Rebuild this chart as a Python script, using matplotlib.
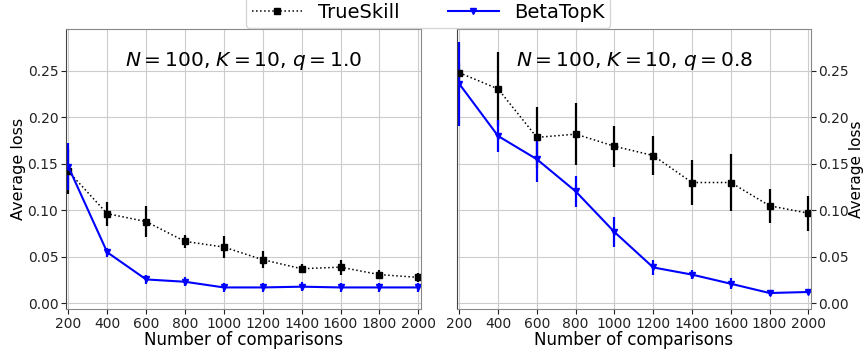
import numpy as np
import matplotlib
matplotlib.use("Agg")
import matplotlib.pyplot as plt
from matplotlib.lines import Line2D

# number of comparisons
comparisons = [200, 400, 600, 800, 1000, 1200, 1400, 1600, 1800, 2000]

# q = 1.0
ts_q10 = [0.142, 0.0965, 0.088, 0.0667, 0.0606, 0.047, 0.0373, 0.039, 0.031, 0.028]
ts_q10_err = [0.024, 0.013, 0.017, 0.007, 0.012, 0.009, 0.005, 0.008, 0.005, 0.005]
bt_q10 = [0.147, 0.055, 0.0258, 0.0233, 0.0172, 0.0172, 0.018, 0.0172, 0.0172, 0.0172]
bt_q10_err = [0.025, 0.005, 0.005, 0.005, 0.005, 0.005, 0.005, 0.005, 0.005, 0.005]

# q = 0.8
ts_q08 = [0.248, 0.2306, 0.1785, 0.182, 0.169, 0.159, 0.130, 0.130, 0.105, 0.097]
ts_q08_err = [0.01, 0.04, 0.033, 0.033, 0.022, 0.021, 0.024, 0.031, 0.018, 0.019]
bt_q08 = [0.236, 0.180, 0.155, 0.1205, 0.0768, 0.0387, 0.031, 0.0212, 0.0112, 0.0123]
bt_q08_err = [0.045, 0.017, 0.024, 0.017, 0.016, 0.008, 0.005, 0.006, 0.003, 0.002]

titles = [r"$N=100$, $K=10$, $q=1.0$", r"$N=100$, $K=10$, $q=0.8$"]

fig = plt.figure(figsize=(8.65, 3.53), dpi=100)
ax1 = fig.add_axes([0.0763, 0.1246, 0.4104, 0.7932])
ax2 = fig.add_axes([0.5283, 0.1246, 0.4093, 0.7932])

panels = [(ax1, ts_q10, ts_q10_err, bt_q10, bt_q10_err, titles[0]),
          (ax2, ts_q08, ts_q08_err, bt_q08, bt_q08_err, titles[1])]

for ax, ts, ts_err, bt, bt_err, title in panels:
    ax.errorbar(comparisons, ts, yerr=ts_err, color='black', linestyle=':',
                marker='s', markersize=5, linewidth=1.1, elinewidth=1.6)
    ax.errorbar(comparisons, bt, yerr=bt_err, color='blue', linestyle='-',
                marker='v', markersize=5, linewidth=1.5, elinewidth=1.6)
    ax.set_xlim(188, 2014)
    ax.set_ylim(-0.006, 0.295)
    ax.set_xticks(comparisons)
    ax.set_yticks([0.0, 0.05, 0.10, 0.15, 0.20, 0.25])
    ax.grid(True, color='#cccccc', linewidth=0.8)
    ax.set_axisbelow(True)
    ax.tick_params(labelsize=10, colors='#222222', pad=2)
    for sp in ax.spines.values():
        sp.set_color('#888888')
    ax.set_xlabel('Number of comparisons', fontsize=12, labelpad=0)
    ax.set_ylabel('Average loss', fontsize=11.5, labelpad=1)
    ax.text(0.5, 0.885, title, transform=ax.transAxes, ha='center', va='center',
            fontsize=14.5)

ax1.spines['left'].set_color('#444444')
ax2.spines['left'].set_color('#444444')
ax2.yaxis.tick_right()
ax2.tick_params(axis='y', pad=1.5)
ax2.yaxis.set_label_position('right')
ax2.set_ylabel('Average loss', fontsize=11, labelpad=0)

handles = [Line2D([], [], color='black', linestyle=':', marker='s', markersize=4, linewidth=1.1),
           Line2D([], [], color='blue', linestyle='-', marker='v', markersize=4, linewidth=1.5)]
fig.legend(handles, ['TrueSkill', 'BetaTopK'], loc='upper center', ncol=2, fontsize=14,
           bbox_to_anchor=(0.495, 1.035), frameon=True, columnspacing=2.5,
           handlelength=2.6, borderpad=0.3)

fig.savefig('out.png', dpi=100)
